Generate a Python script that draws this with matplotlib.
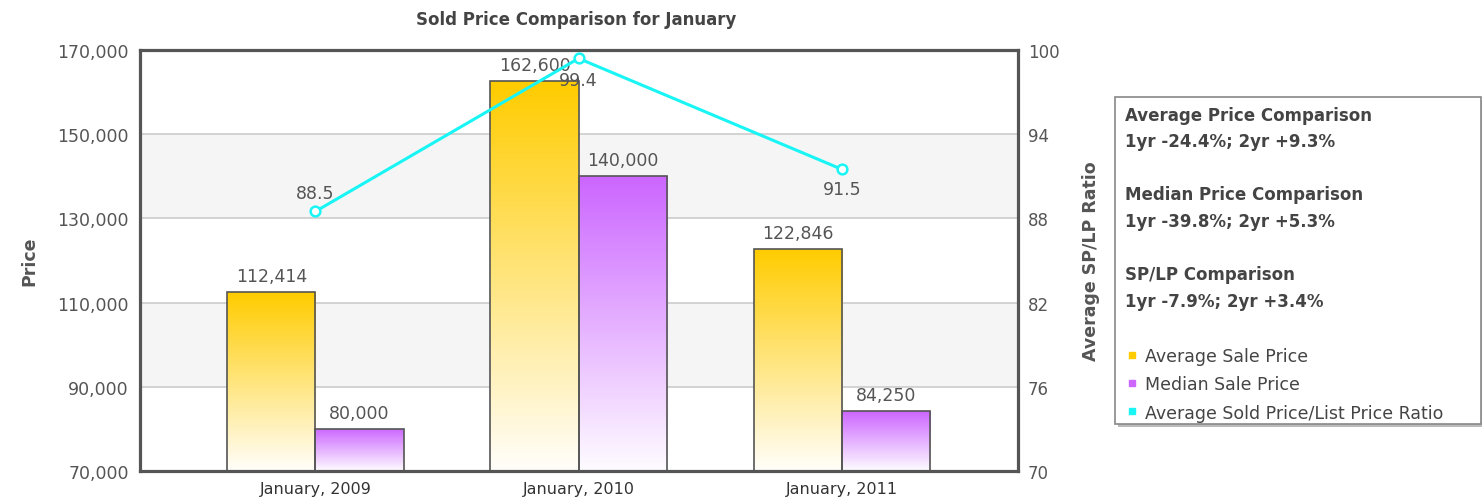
import matplotlib
matplotlib.use("Agg")
import matplotlib.pyplot as plt
import numpy as np
from matplotlib.patches import Rectangle
from matplotlib.lines import Line2D
from matplotlib.colors import LinearSegmentedColormap

# ---- data ----
categories = ["January, 2009", "January, 2010", "January, 2011"]
avg_sale_price = [112414, 162600, 122846]
median_sale_price = [80000, 140000, 84250]
sp_lp_ratio = [88.5, 99.4, 91.5]
price_ticks = [70000, 90000, 110000, 130000, 150000, 170000]
ratio_ticks = [70, 76, 82, 88, 94, 100]
series_names = ["Average Sale Price", "Median Sale Price",
                "Average Sold Price/List Price Ratio"]
comparisons = [
    ("Average Price Comparison", "1yr -24.4%; 2yr +9.3%"),
    ("Median Price Comparison", "1yr -39.8%; 2yr +5.3%"),
    ("SP/LP Comparison", "1yr -7.9%; 2yr +3.4%"),
]

YELLOW = "#FFCC00"
PURPLE = "#CC66FF"
CYAN = "#19F5F5"
EDGE = "#555555"
TXT = "#555555"

plt.rcParams["font.family"] = ["DejaVu Sans"]

W, H = 1482, 502
fig = plt.figure(figsize=(W / 100, H / 100), dpi=100)
fig.patch.set_facecolor("white")
ax = fig.add_axes([140 / W, 1 - 472 / H, (1018 - 140) / W, (472 - 51) / H])
ax.set_zorder(1)
ax.set_facecolor("white")

x = np.arange(len(categories))
bw = 0.335
base = price_ticks[0]

# alternating background bands
for i in range(len(price_ticks) - 1):
    if i % 2 == 1:
        ax.axhspan(price_ticks[i], price_ticks[i + 1], color="#F5F5F5", zorder=0, lw=0)
for t in price_ticks[1:-1]:
    ax.axhline(t, color="#CCCCCC", lw=1.2, zorder=0.5)


def gradient_bars(values, offset, color):
    heights = [v - base for v in values]
    bars = ax.bar(x + offset, heights, bottom=base, width=bw, align="edge",
                  facecolor="none", edgecolor=EDGE, linewidth=1.2, zorder=3)
    cmap = LinearSegmentedColormap.from_list("g", ["#FFFFFF", color])
    grad = np.linspace(0.02, 1, 256).reshape(-1, 1)
    for b in bars:
        x0, y0 = b.get_x(), b.get_y()
        im = ax.imshow(grad, cmap=cmap, vmin=0, vmax=1, aspect="auto",
                       origin="lower",
                       extent=(x0, x0 + b.get_width(), y0, y0 + b.get_height()),
                       zorder=2)
        im.set_clip_path(b)
    return bars


bars_avg = gradient_bars(avg_sale_price, -bw, YELLOW)
bars_med = gradient_bars(median_sale_price, 0, PURPLE)
ax.set_xlim(-0.667, 2.67)
ax.set_ylim(price_ticks[0], price_ticks[-1])

for bars, vals in ((bars_avg, avg_sale_price), (bars_med, median_sale_price)):
    for b, v in zip(bars, vals):
        ax.annotate(f"{v:,}", (b.get_x() + b.get_width() / 2, v),
                    xytext=(0, 5), textcoords="offset points",
                    ha="center", va="bottom", fontsize=12.5, color=TXT, zorder=6)

ax.set_xticks(x)
ax.set_xticklabels(categories, fontsize=11.5, color="#333333")
ax.set_yticks(price_ticks)
ax.set_yticklabels([f"{t:,}" for t in price_ticks], fontsize=12.5, color=TXT)
ax.tick_params(axis="both", length=0)
ax.tick_params(axis="x", pad=7)
ax.tick_params(axis="y", pad=8)
ax.set_ylabel("Price", fontsize=12.5, fontweight="bold", color=TXT, labelpad=14)

for s in ax.spines.values():
    s.set_color(EDGE)
    s.set_linewidth(2.3)

# secondary axis: SP/LP ratio line
ax2 = ax.twinx()
ax2.set_zorder(2)
ax2.set_ylim(ratio_ticks[0], ratio_ticks[-1])
ax2.set_yticks(ratio_ticks)
ax2.set_yticklabels([str(t) for t in ratio_ticks], fontsize=12, color=TXT)
ax2.tick_params(axis="y", length=0, pad=7)
for s in ax2.spines.values():
    s.set_visible(False)
ax2.set_ylabel("Average SP/LP Ratio", fontsize=12.5, fontweight="bold",
               color=TXT, labelpad=16)
ax2.plot(x, sp_lp_ratio, color=CYAN, lw=2.2, marker="o", ms=7,
         mfc="white", mec=CYAN, mew=1.8, zorder=5, clip_on=False)
label_offsets = [(0, 7, "bottom"), (0, -9, "top"), (0, -8, "top")]
for xi, v, (dx, dy, va) in zip(x, sp_lp_ratio, label_offsets):
    ax2.annotate(f"{v}", (xi, v), xytext=(dx, dy), textcoords="offset points",
                 ha="center", va=va, fontsize=12.5, color=TXT, zorder=6)

fig.text(576 / W, 1 - 20 / H, "Sold Price Comparison for January",
         ha="center", va="center", fontsize=12, fontweight="bold", color="#444444")

# summary / legend box
bx0, by0, bx1, by1 = 1115, 98, 1481, 425
fig.patches.append(Rectangle((bx0 / W + 3 / W, 1 - (by1 + 3) / H), (bx1 - bx0) / W,
                             (by1 - by0) / H, transform=fig.transFigure,
                             facecolor="#BBBBBB", edgecolor="none", zorder=0))
fig.patches.append(Rectangle((bx0 / W, 1 - by1 / H), (bx1 - bx0) / W, (by1 - by0) / H,
                             transform=fig.transFigure, facecolor="white",
                             edgecolor="#888888", lw=1.2, zorder=1))
tx = 1125 / W
ys = [(116, 142), (195, 222), (275, 302)]
for (head, line), (yh, yl) in zip(comparisons, ys):
    fig.text(tx, 1 - yh / H, head, fontsize=12, fontweight="bold", color="#444444",
             va="center", ha="left", zorder=3)
    fig.text(tx, 1 - yl / H, line, fontsize=12, fontweight="bold", color="#444444",
             va="center", ha="left", zorder=3)

handles = [Line2D([], [], ls="none", marker="s", ms=5, mfc=c, mec=c)
           for c in (YELLOW, PURPLE, CYAN)]
leg = fig.legend(handles, series_names, loc="upper left",
                 bbox_to_anchor=(1119 / W, 1 - 339 / H), frameon=False,
                 fontsize=12.5, handlelength=0.5, handletextpad=0.5,
                 labelspacing=0.6, borderpad=0, labelcolor="#444444")
leg.set_zorder(3)

fig.savefig("out.png", dpi=100)
